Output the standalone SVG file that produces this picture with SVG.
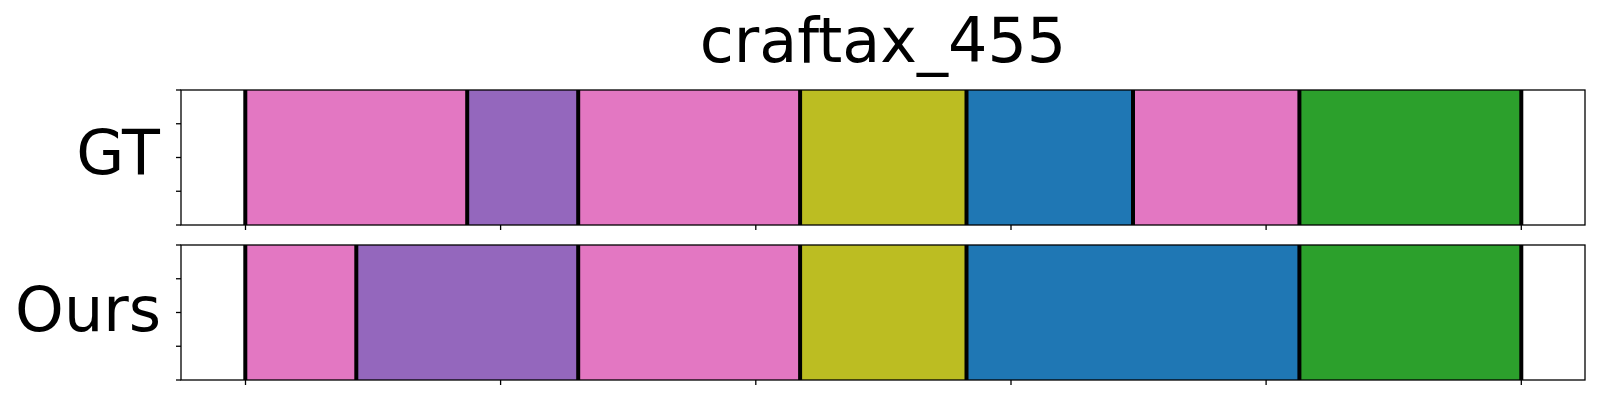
<svg xmlns="http://www.w3.org/2000/svg" width="1600" height="400" viewBox="0 0 1600 400">
<style>
text{font-family:"DejaVu Sans","Liberation Sans",sans-serif;font-size:62px;fill:#000}
.frame{fill:none;stroke:#000;stroke-width:1.3}
.tick{stroke:#000;stroke-width:1.3}
.bd{stroke:#000;stroke-width:4}
.pink{fill:#e377c2}.purple{fill:#9467bd}.olive{fill:#bcbd22}.blue{fill:#1f77b4}.green{fill:#2ca02c}
</style>
<rect width="1600" height="400" fill="#fff"/>
<text x="883" y="62" text-anchor="middle">craftax_455</text>
<g id="gt">
<text x="160" y="174" text-anchor="end">GT</text>
<rect x="245.3" y="90" width="221.9" height="135" class="pink"/>
<rect x="467.2" y="90" width="111" height="135" class="purple"/>
<rect x="578.2" y="90" width="221.9" height="135" class="pink"/>
<rect x="800.1" y="90" width="166.4" height="135" class="olive"/>
<rect x="966.5" y="90" width="166.5" height="135" class="blue"/>
<rect x="1133" y="90" width="166.4" height="135" class="pink"/>
<rect x="1299.4" y="90" width="221.9" height="135" class="green"/>
<g class="bd">
<line x1="245.3" y1="90" x2="245.3" y2="225"/>
<line x1="467.2" y1="90" x2="467.2" y2="225"/>
<line x1="578.2" y1="90" x2="578.2" y2="225"/>
<line x1="800.1" y1="90" x2="800.1" y2="225"/>
<line x1="966.5" y1="90" x2="966.5" y2="225"/>
<line x1="1133" y1="90" x2="1133" y2="225"/>
<line x1="1299.4" y1="90" x2="1299.4" y2="225"/>
<line x1="1521.3" y1="90" x2="1521.3" y2="225"/>
</g>
<rect x="181" y="90" width="1404" height="135" class="frame"/>
<g class="tick">
<line x1="176" y1="90" x2="181" y2="90"/>
<line x1="176" y1="123.75" x2="181" y2="123.75"/>
<line x1="176" y1="157.5" x2="181" y2="157.5"/>
<line x1="176" y1="191.25" x2="181" y2="191.25"/>
<line x1="176" y1="225" x2="181" y2="225"/>
<line x1="245.5" y1="225" x2="245.5" y2="230"/>
<line x1="500.6" y1="225" x2="500.6" y2="230"/>
<line x1="755.8" y1="225" x2="755.8" y2="230"/>
<line x1="1011" y1="225" x2="1011" y2="230"/>
<line x1="1266.1" y1="225" x2="1266.1" y2="230"/>
<line x1="1521.3" y1="225" x2="1521.3" y2="230"/>
</g>
</g>
<g id="ours">
<text x="161" y="331" text-anchor="end">Ours</text>
<rect x="245.3" y="245" width="111" height="135" class="pink"/>
<rect x="356.3" y="245" width="221.9" height="135" class="purple"/>
<rect x="578.2" y="245" width="221.9" height="135" class="pink"/>
<rect x="800.1" y="245" width="166.4" height="135" class="olive"/>
<rect x="966.5" y="245" width="332.9" height="135" class="blue"/>
<rect x="1299.4" y="245" width="221.9" height="135" class="green"/>
<g class="bd">
<line x1="245.3" y1="245" x2="245.3" y2="380"/>
<line x1="356.3" y1="245" x2="356.3" y2="380"/>
<line x1="578.2" y1="245" x2="578.2" y2="380"/>
<line x1="800.1" y1="245" x2="800.1" y2="380"/>
<line x1="966.5" y1="245" x2="966.5" y2="380"/>
<line x1="1299.4" y1="245" x2="1299.4" y2="380"/>
<line x1="1521.3" y1="245" x2="1521.3" y2="380"/>
</g>
<rect x="181" y="245" width="1404" height="135" class="frame"/>
<g class="tick">
<line x1="176" y1="245" x2="181" y2="245"/>
<line x1="176" y1="278.75" x2="181" y2="278.75"/>
<line x1="176" y1="312.5" x2="181" y2="312.5"/>
<line x1="176" y1="346.25" x2="181" y2="346.25"/>
<line x1="176" y1="380" x2="181" y2="380"/>
<line x1="245.5" y1="380" x2="245.5" y2="385"/>
<line x1="500.6" y1="380" x2="500.6" y2="385"/>
<line x1="755.8" y1="380" x2="755.8" y2="385"/>
<line x1="1011" y1="380" x2="1011" y2="385"/>
<line x1="1266.1" y1="380" x2="1266.1" y2="385"/>
<line x1="1521.3" y1="380" x2="1521.3" y2="385"/>
</g>
</g>
<g id="connectors"></g>
</svg>
